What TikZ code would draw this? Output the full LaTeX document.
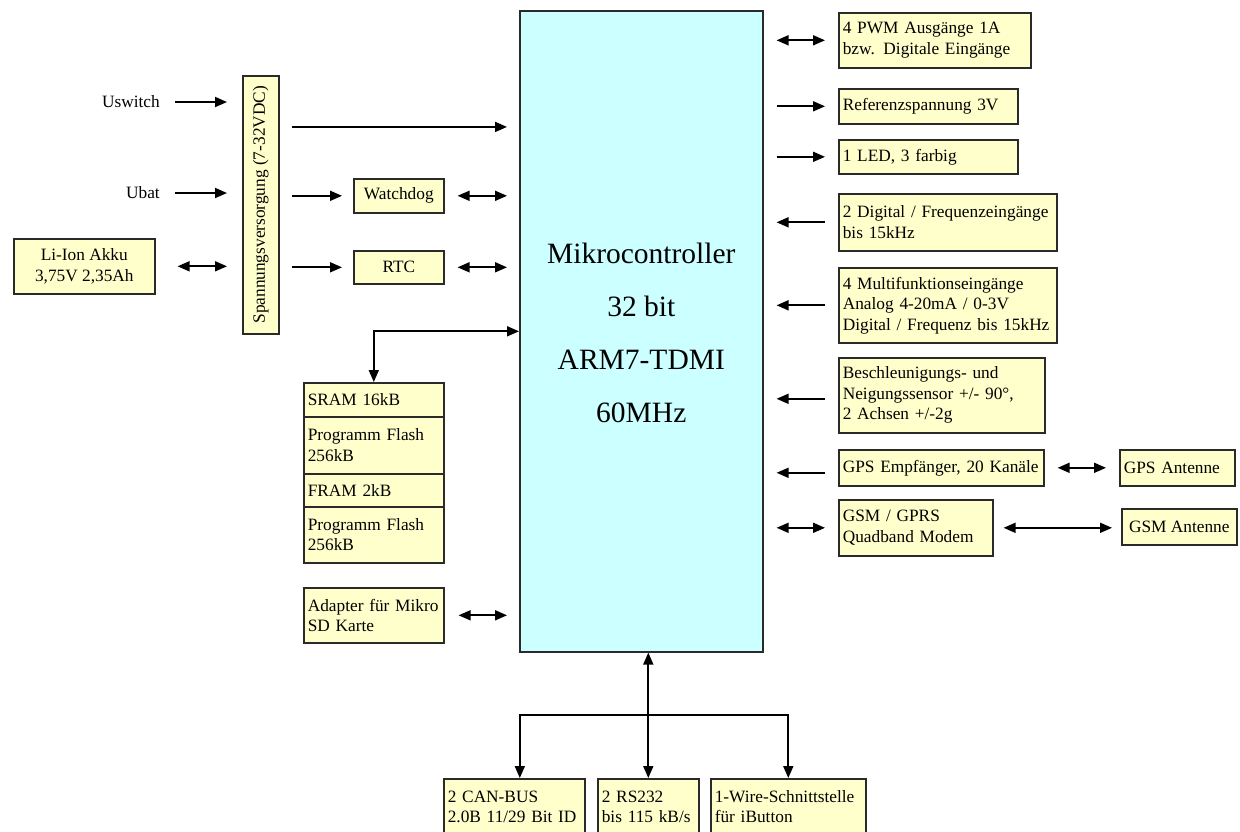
\documentclass[tikz,border=0pt]{standalone}
\usepackage{fontspec}
\setmainfont{Liberation Serif}
\usetikzlibrary{arrows.meta,calc}
\definecolor{boxfill}{HTML}{FFFFCC}
\definecolor{mcufill}{HTML}{CCFFFF}
\definecolor{edge}{HTML}{2A2A2A}

\begin{document}
\begin{tikzpicture}[x=1pt,y=-1pt,
  txt/.style={font=\fontsize{17.3}{20.5}\selectfont},
  ybox/.style={txt, draw=edge, line width=1.6pt, fill=boxfill,
    anchor=north west, inner xsep=4pt, inner ysep=0pt},
  lbox/.style={ybox, align=left},
  cbox/.style={ybox, align=center},
  lbl/.style={txt, inner sep=0pt},
  big/.style={font=\fontsize{29.5}{35}\selectfont, inner sep=0pt},
  tip/.tip={Triangle[length=12pt,width=10pt]},
  arr/.style={line width=1.8pt, -tip},
  larr/.style={line width=1.8pt, tip-},
  darr/.style={line width=1.8pt, tip-tip}]

\path[use as bounding box, fill=white] (0,0) rectangle (1240,831);

% microcontroller
\node[draw=edge, line width=1.6pt, fill=mcufill, anchor=north west,
      minimum width=243pt, minimum height=641pt, inner sep=0pt] (mcu) at (519,10) {};
\node[big] (m1) at ($(mcu.north)+(0,243)$) {Mikrocontroller};
\node[big] (m2) at ($(mcu.north)+(0,296)$) {32 bit};
\node[big] (m3) at ($(mcu.north)+(0,350)$) {ARM7-TDMI};
\node[big] (m4) at ($(mcu.north)+(0,403)$) {60MHz};

% power supply
\node[cbox, minimum width=36pt, minimum height=258pt] (spv) at (242,75) {};
\node[lbl, rotate=90] (spvtext) at (spv.center) {Spannungsversorgung (7-32VDC)};
\node[lbl, anchor=east] (usw) at (160,102) {Uswitch};
\node[lbl, anchor=east] (ubat) at (160,193) {Ubat};
\node[cbox, minimum width=141pt, minimum height=55pt] (akku) at (13,238) {Li-Ion Akku\\3,75V 2,35Ah};
\node[cbox, minimum width=90pt, minimum height=34pt] (wd) at (353,178) {Watchdog};
\node[cbox, minimum width=90pt, minimum height=33pt] (rtc) at (353,250) {RTC};

% memory
\node[lbox, text width=132pt, minimum height=34pt] (sram) at (303,382) {SRAM 16kB};
\node[lbox, text width=132pt, minimum height=57pt] (flash1) at (303,416) {Programm Flash\\256kB};
\node[lbox, text width=132pt, minimum height=33pt] (fram) at (303,473) {FRAM 2kB};
\node[lbox, text width=132pt, minimum height=56pt] (flash2) at (303,506) {Programm Flash\\256kB};
\node[lbox, text width=132pt, minimum height=55pt] (sd) at (303,587) {Adapter für Mikro\\SD Karte};

% peripherals on the right
\node[lbox, text width=184pt, minimum height=55pt] (pwm) at (838,12) {4 PWM Ausgänge 1A\\bzw. Digitale Eingänge};
\node[lbox, text width=171pt, minimum height=35pt] (ref) at (838,88) {Referenzspannung 3V};
\node[lbox, text width=171pt, minimum height=34pt] (led) at (838,139) {1 LED, 3 farbig};
\node[lbox, text width=210pt, minimum height=57pt] (dig) at (838,193) {2 Digital / Frequenzeingänge\\bis 15kHz};
\node[lbox, text width=210pt, minimum height=75pt] (multi) at (838,267) {4 Multifunktionseingänge\\Analog 4-20mA / 0-3V\\Digital / Frequenz bis 15kHz};
\node[lbox, text width=198pt, minimum height=75pt] (beschl) at (838,357) {Beschleunigungs- und\\Neigungssensor +/- 90°,\\2 Achsen +/-2g};
\node[lbox, text width=197pt, minimum height=36pt] (gps) at (838,449) {GPS Empfänger, 20 Kanäle};
\node[lbox, text width=107pt, minimum height=36pt] (gpsant) at (1119,449) {GPS Antenne};
\node[lbox, text width=146pt, minimum height=56pt] (gsm) at (838,499) {GSM / GPRS\\Quadband Modem};
\node[cbox, minimum width=115pt, minimum height=36pt] (gsmant) at (1121,508) {GSM Antenne};

% bus interfaces at the bottom
\node[lbox, text width=133pt, minimum height=56pt] (can) at (443,778) {2 CAN-BUS\\2.0B 11/29 Bit ID};
\node[lbox, text width=93pt, minimum height=56pt] (rs) at (597,778) {2 RS232\\bis 115 kB/s};
\node[lbox, text width=147pt, minimum height=56pt] (ow) at (710,778) {1-Wire-Schnittstelle\\für iButton};

% supply connections
\draw[arr, shorten <=15pt, shorten >=15pt] (usw.east) -- (usw.east -| spv.west);
\draw[arr, shorten <=15pt, shorten >=15pt] (ubat.east) -- (ubat.east -| spv.west);
\draw[darr, shorten <=22pt, shorten >=15pt] (akku.east) -- (akku.east -| spv.west);
\coordinate (spvout) at ($(spv.north east)!.2!(spv.south east)$);
\draw[arr, shorten <=12pt, shorten >=12pt] (spvout) -- (spvout -| mcu.west);
\draw[arr, shorten <=12pt, shorten >=11pt] (wd.west -| spv.east) -- (wd.west);
\draw[arr, shorten <=12pt, shorten >=11pt] (rtc.west -| spv.east) -- (rtc.west);
\draw[darr, shorten <=13pt, shorten >=12pt] (wd.east) -- (wd.east -| mcu.west);
\draw[darr, shorten <=13pt, shorten >=12pt] (rtc.east) -- (rtc.east -| mcu.west);

% memory and card
\draw[darr] (mcu.west) -| (sram.north);
\draw[darr, shorten <=14pt, shorten >=12pt] (sd.east) -- (sd.east -| mcu.west);

% right side
\draw[darr, shorten <=13pt, shorten >=13pt] (mcu.east |- pwm.west) -- (pwm.west);
\draw[arr, shorten <=13pt, shorten >=13pt] (mcu.east |- ref.west) -- (ref.west);
\draw[arr, shorten <=13pt, shorten >=13pt] (mcu.east |- led.west) -- (led.west);
\draw[larr, shorten <=13pt, shorten >=13pt] (mcu.east |- dig.west) -- (dig.west);
\draw[larr, shorten <=13pt, shorten >=13pt] (mcu.east |- multi.west) -- (multi.west);
\coordinate (beschlin) at ([yshift=-3.5pt]beschl.west);
\draw[larr, shorten <=13pt, shorten >=13pt] (mcu.east |- beschlin) -- (beschlin);
\coordinate (gpsin) at ([yshift=-5pt]gps.west);
\draw[larr, shorten <=13pt, shorten >=13pt] (mcu.east |- gpsin) -- (gpsin);
\draw[darr, shorten <=13pt, shorten >=13pt] (mcu.east |- gsm.west) -- (gsm.west);
\draw[darr, shorten <=13pt, shorten >=13pt] (gps.east) -- (gpsant.west);
\draw[darr, shorten <=10pt, shorten >=9pt] (gsm.east) -- (gsm.east -| gsmant.west);

% bottom bus
\draw[darr] (rs.north |- mcu.south) -- (rs.north);
\coordinate (br) at ($(rs.north |- mcu.south)!.5!(rs.north)$);
\draw[arr] (br) -| ([xshift=5.5pt]can.north);
\draw[arr] (br) -| (ow.north);
\end{tikzpicture}
\end{document}
